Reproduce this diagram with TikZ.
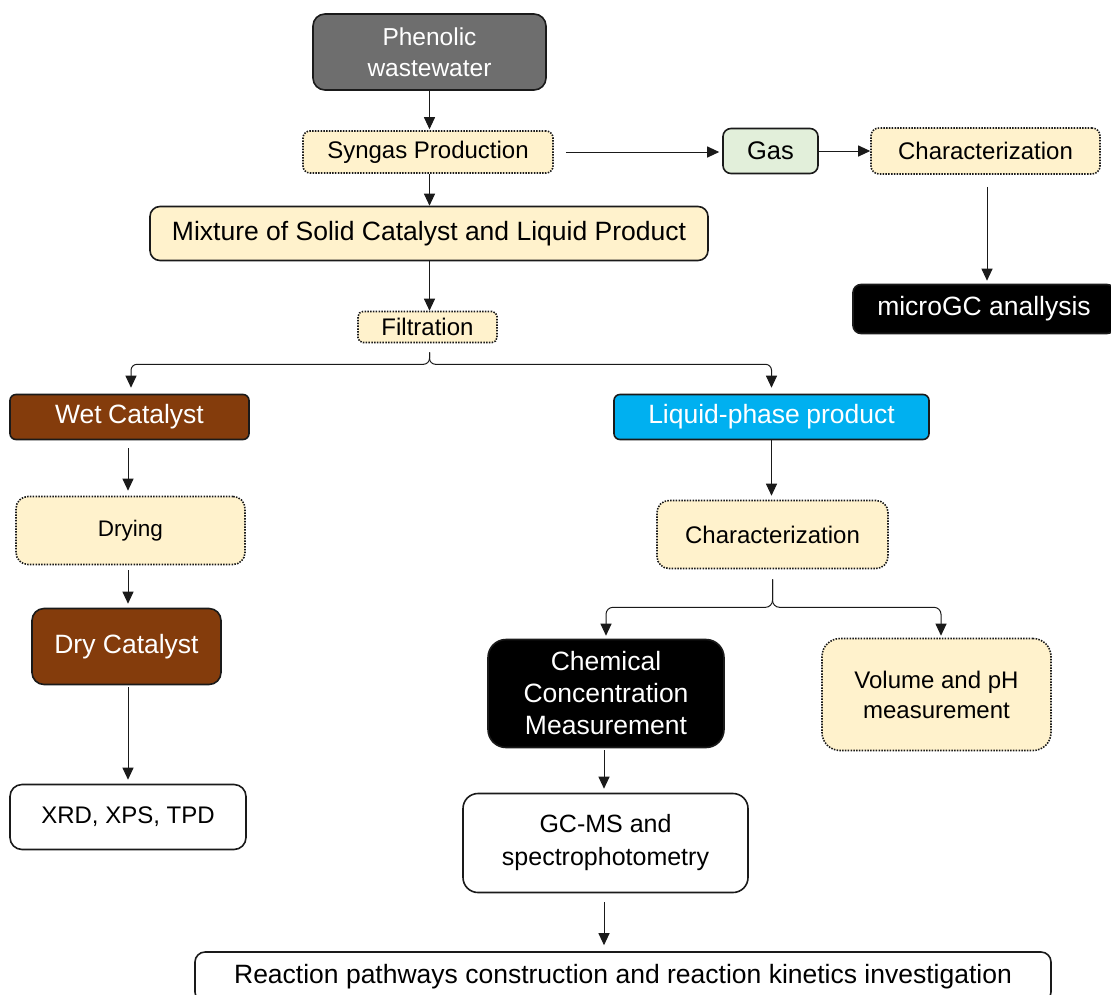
\documentclass[tikz,border=0pt]{standalone}
\usepackage{fontspec}
\setmainfont{Liberation Sans}
\usetikzlibrary{arrows.meta,calc}
\definecolor{cream}{HTML}{FFF2CC}
\definecolor{gasgreen}{HTML}{E2EFDA}
\definecolor{brownc}{HTML}{843C0C}
\definecolor{bluec}{HTML}{00B0F0}
\definecolor{grayc}{HTML}{6E6E6E}
\definecolor{linec}{HTML}{1A1A1A}
\tikzset{
  box/.style={rounded corners=#1, line width=1.6pt, draw=linec, inner sep=0pt, align=center},
  box/.default=9pt,
  dotbox/.style={rounded corners=#1, line width=1.6pt, draw=linec, dash pattern=on 1.5pt off 1.3pt, fill=cream, inner sep=0pt, align=center},
  dotbox/.default=9pt,
  fs/.style={font=\fontsize{24}{30}\selectfont},
  fl/.style={font=\fontsize{26.5}{32}\selectfont},
  conn/.style={line width=1pt, draw=linec, -{Triangle[length=12pt,width=11pt]}},
}
\begin{document}
\begin{tikzpicture}[x=1pt,y=-1pt]
\useasboundingbox (0,0) rectangle (1111,994);
% nodes
\node[box=12pt, fill=grayc, text=white, font=\fontsize{24.5}{31}\selectfont, minimum width=233pt, minimum height=76pt] (pw) at (429.5,52) {Phenolic\\wastewater};
\node[dotbox=7pt, fs, minimum width=250pt, minimum height=42pt] (syn) at (428,152) {Syngas Production};
\node[box=8pt, fill=gasgreen, font=\fontsize{25.5}{30}\selectfont, minimum width=95pt, minimum height=45pt] (gas) at (770.5,151) {Gas};
\node[dotbox=8pt, fs, minimum width=229pt, minimum height=46pt] (ch1) at (985.5,151) {Characterization};
\node[box=8pt, fill=black, text=white, fl, minimum width=262pt, minimum height=49pt] (mgc) at (984,309) {microGC anallysis};
\node[box=10pt, fill=cream, fl, minimum width=558pt, minimum height=54pt] (mix) at (429,233.5) {Mixture of Solid Catalyst and Liquid Product};
\node[dotbox=5pt, fs, minimum width=139pt, minimum height=31pt] (filt) at (427.5,327) {Filtration};
\node[box=6pt, fill=brownc, text=white, fl, minimum width=239pt, minimum height=45pt] (wet) at (129.5,417) {Wet\kern-1pt\ Catalyst};
\node[box=6pt, fill=bluec, text=white, fl, minimum width=315pt, minimum height=45pt] (liq) at (771.5,417) {Liquid-phase\kern-1pt\ product};
\node[dotbox=12pt, font=\fontsize{22.5}{28}\selectfont, minimum width=229pt, minimum height=68pt] (dry) at (130.5,530.5) {Drying};
\node[box=12pt, fill=brownc, text=white, fl, minimum width=189pt, minimum height=76pt] (dryc) at (126.5,646.5) {Dry Catalyst};
\node[box=12pt, fill=white, fs, minimum width=236pt, minimum height=65pt] (xrd) at (128,817) {XRD, XPS, TPD};
\node[dotbox=12pt, fs, minimum width=231pt, minimum height=68pt] (ch2) at (772.5,534.5) {Characterization};
\node[box=18pt, fill=black, text=white, fl, minimum width=236pt, minimum height=108pt] (chem) at (606,693.5) {Chemical\\Concentration\\Measurement};
\node[dotbox=18pt, font=\fontsize{24}{30}\selectfont, minimum width=229pt, minimum height=112pt] (vol) at (936.5,694.5) {Volume and pH\\measurement};
\node[box=15pt, fill=white, font=\fontsize{25}{33}\selectfont, minimum width=285pt, minimum height=99pt] (gcms) at (605.5,843) {GC-MS and\\spectrophotometry};
\node[box=10pt, fill=white, font=\fontsize{26.5}{30}\selectfont, minimum width=856pt, minimum height=50pt] (rx) at (623,977) {Reaction pathways construction and reaction kinetics investigation};
% connectors
\draw[conn, shorten >=1pt] (pw.south) -- (syn.north -| pw.south);
\draw[conn] (syn.south -| pw.south) -- (mix.north -| pw.south);
\draw[conn] (mix.south -| pw.south) -- (filt.north -| pw.south);
\draw[conn, shorten <=12pt, shorten >=3pt] (syn.east) -- (syn.east -| gas.west);
\draw[conn] (gas.east) -- (ch1.west);
\draw[conn, shorten <=12pt, shorten >=3pt] (ch1.south -| 987,0) -- (mgc.north -| 987,0);
% filtration split
\coordinate (fs) at ($(filt.south -| pw.south)+(0,9)$);
\draw[conn, rounded corners=6pt, shorten >=6pt] (fs) -- ++(0,12) -| (wet.north -| 131,0);
\draw[conn, rounded corners=6pt, shorten >=6pt] (fs) -- ++(0,12) -| (liq.north);
% left column
\draw[conn, shorten <=8pt, shorten >=5pt] (wet.south -| 128,0) -- (dry.north -| 128,0);
\draw[conn, shorten <=5pt, shorten >=4pt] (dry.south -| 128,0) -- (dryc.north -| 128,0);
\draw[conn, shorten <=2pt, shorten >=4pt] (dryc.south -| 128,0) -- (xrd.north -| 128,0);
% right column
\draw[conn, shorten >=4pt] (liq.south) -- (ch2.north -| liq.south);
\coordinate (cs) at ($(ch2.south)+(0,10)$);
\draw[conn, rounded corners=7pt, shorten >=3pt] (cs) -- ++(0,28) -| (chem.north);
\draw[conn, rounded corners=7pt, shorten >=2pt] (cs) -- ++(0,28) -| (vol.north -| 941,0);
\draw[conn, shorten <=2pt, shorten >=4pt] (chem.south -| 604,0) -- (gcms.north -| 604,0);
\draw[conn, shorten <=9pt, shorten >=6pt] (gcms.south -| 604,0) -- (rx.north -| 604,0);
\end{tikzpicture}
\end{document}
